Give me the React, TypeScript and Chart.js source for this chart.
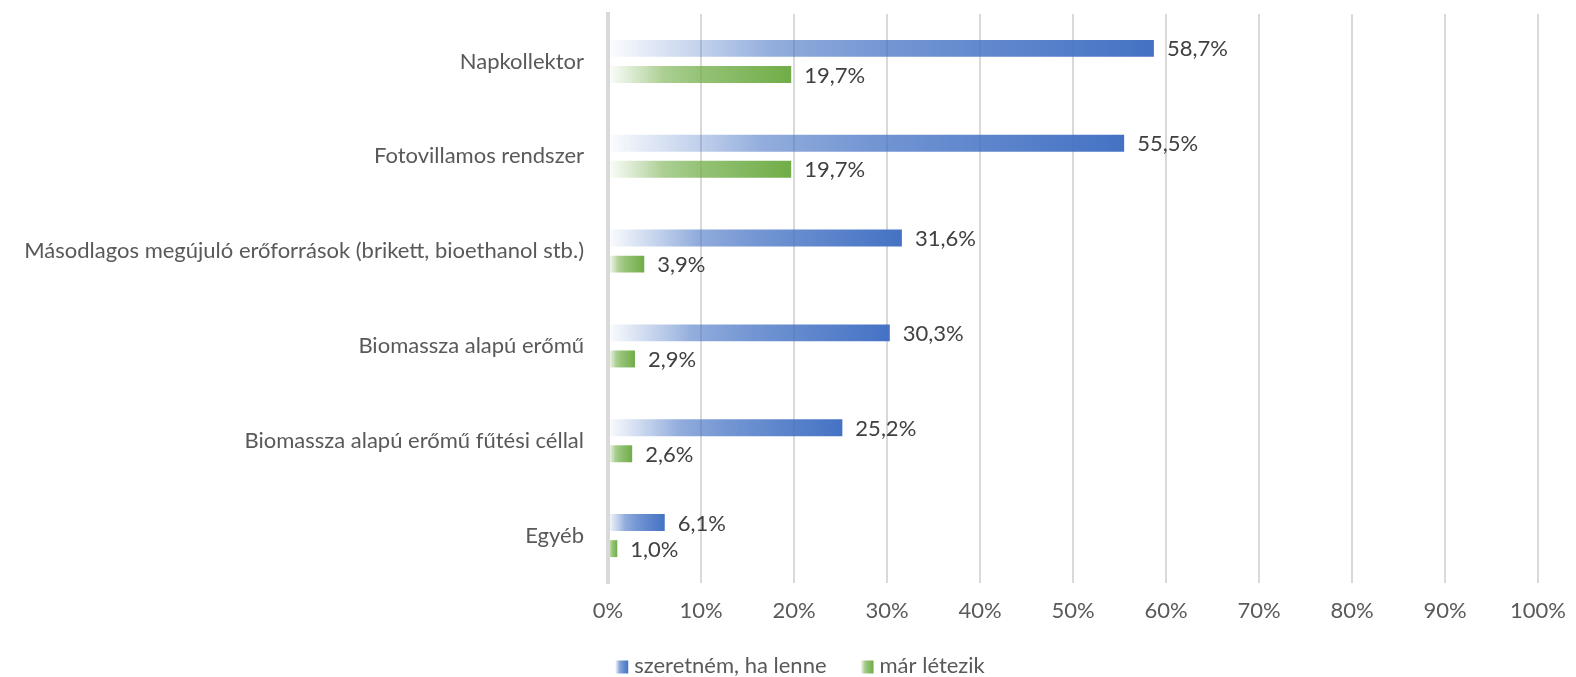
import React, { useEffect, useRef } from "react";
import { Chart, registerables } from "chart.js";

Chart.register(...registerables);

const categories = [
  "Napkollektor",
  "Fotovillamos rendszer",
  "Másodlagos megújuló erőforrások (brikett, bioethanol stb.)",
  "Biomassza alapú erőmű",
  "Biomassza alapú erőmű fűtési céllal",
  "Egyéb",
];
const seriesNames = ["szeretném, ha lenne", "már létezik"];
const wantValues = [58.7, 55.5, 31.6, 30.3, 25.2, 6.1];
const existValues = [19.7, 19.7, 3.9, 2.9, 2.6, 1.0];
const xTicks = [0, 10, 20, 30, 40, 50, 60, 70, 80, 90, 100];

const BLUE = [68, 114, 196];
const GREEN = [112, 173, 71];
const FONT = "Lato, 'Noto Sans', sans-serif";
const FS = 22;

function rgba(c: number[], a: number) {
  return `rgba(${c[0]},${c[1]},${c[2]},${a})`;
}

function makeGrad(c: CanvasRenderingContext2D, x0: number, x1: number, col: number[]) {
  const g = c.createLinearGradient(x0, 0, x1, 0);
  g.addColorStop(0, rgba(col, 0.02));
  g.addColorStop(0.2, rgba(col, 0.38));
  g.addColorStop(0.3, rgba(col, 0.58));
  g.addColorStop(0.5, rgba(col, 0.74));
  g.addColorStop(1, rgba(col, 1));
  return g;
}

function barColor(col: number[]) {
  return (ctx: any) => {
    const chart = ctx.chart;
    const xs = chart.scales && chart.scales.x;
    if (!xs || ctx.raw == null) return rgba(col, 1);
    const x0 = xs.getPixelForValue(0);
    const x1 = xs.getPixelForValue(ctx.raw);
    if (!isFinite(x0) || !isFinite(x1) || x1 - x0 < 1) return rgba(col, 1);
    return makeGrad(chart.ctx, x0, x1, col);
  };
}

const valueLabels = {
  id: "valueLabels",
  afterDatasetsDraw(chart: any) {
    const c = chart.ctx;
    c.save();
    c.font = `${FS}px ${FONT}`;
    c.fillStyle = "#404040";
    c.textAlign = "left";
    c.textBaseline = "middle";
    chart.data.datasets.forEach((ds: any, di: number) => {
      const meta = chart.getDatasetMeta(di);
      meta.data.forEach((el: any, i: number) => {
        const v = ds.data[i];
        c.fillText(v.toFixed(1).replace(".", ",") + "%", el.x + 13, el.y + 1);
      });
    });
    c.restore();
  },
};

const customLegend = {
  id: "customLegend",
  afterDraw(chart: any) {
    const c = chart.ctx;
    c.save();
    c.font = `${FS}px ${FONT}`;
    c.textBaseline = "middle";
    c.textAlign = "left";
    const cols = [BLUE, GREEN];
    const boxW = 13;
    const boxH = 13;
    const gapBoxText = 6;
    const gapItems = 34;
    const widths = seriesNames.map((n) => boxW + gapBoxText + c.measureText(n).width);
    const total = widths.reduce((a, b) => a + b, 0) + gapItems * (widths.length - 1);
    let x = chart.width / 2 - total / 2 + 12;
    const y = 667;
    seriesNames.forEach((n, i) => {
      c.fillStyle = makeGrad(c, x, x + boxW, cols[i]);
      c.fillRect(x, y - boxH / 2, boxW, boxH);
      c.fillStyle = "#595959";
      c.fillText(n, x + boxW + gapBoxText, y - 1);
      x += widths[i] + gapItems;
    });
    c.restore();
  },
};

export default function App() {
  const ref = useRef<HTMLCanvasElement | null>(null);
  useEffect(() => {
    document.body.style.margin = "0";
    if (!ref.current) return;
    const chart = new Chart(ref.current, {
      type: "bar",
      data: {
        labels: categories,
        datasets: [
          {
            label: seriesNames[0],
            data: wantValues,
            backgroundColor: barColor(BLUE),
            categoryPercentage: 0.55,
            barPercentage: 0.65,
          },
          {
            label: seriesNames[1],
            data: existValues,
            backgroundColor: barColor(GREEN),
            categoryPercentage: 0.55,
            barPercentage: 0.65,
          },
        ],
      },
      options: {
        indexAxis: "y",
        animation: false,
        responsive: true,
        maintainAspectRatio: false,
        layout: { padding: { top: 14, right: 38, left: 0, bottom: 0 } },
        plugins: {
          legend: { display: false },
          tooltip: { enabled: false },
        },
        scales: {
          x: {
            min: 0,
            max: 100,
            afterFit: (s: any) => {
              s.height = 94;
              s.paddingLeft = 0;
              s.paddingRight = 0;
            },
            afterBuildTicks: (s: any) => {
              s.ticks = xTicks.map((v) => ({ value: v }));
            },
            ticks: {
              callback: (v: any) => v + "%",
              color: "#595959",
              font: { family: FONT, size: FS },
              padding: 15,
              maxRotation: 0,
              autoSkip: false,
            },
            grid: { color: "#d9d9d9", lineWidth: 2, drawTicks: false },
            border: { display: false },
          },
          y: {
            afterFit: (s: any) => {
              s.width = 608;
              s.paddingTop = 0;
              s.paddingBottom = 0;
            },
            ticks: {
              color: "#595959",
              font: { family: FONT, size: FS },
              padding: 24,
            },
            grid: { display: false, drawTicks: false },
            border: { display: true, color: "#d9d9d9", width: 4, z: 1 },
          },
        },
      },
      plugins: [valueLabels, customLegend],
    } as any);
    return () => chart.destroy();
  }, []);
  return (
    <div style={{ width: 1576, height: 677, position: "relative" }}>
      <canvas ref={ref} />
    </div>
  );
}
